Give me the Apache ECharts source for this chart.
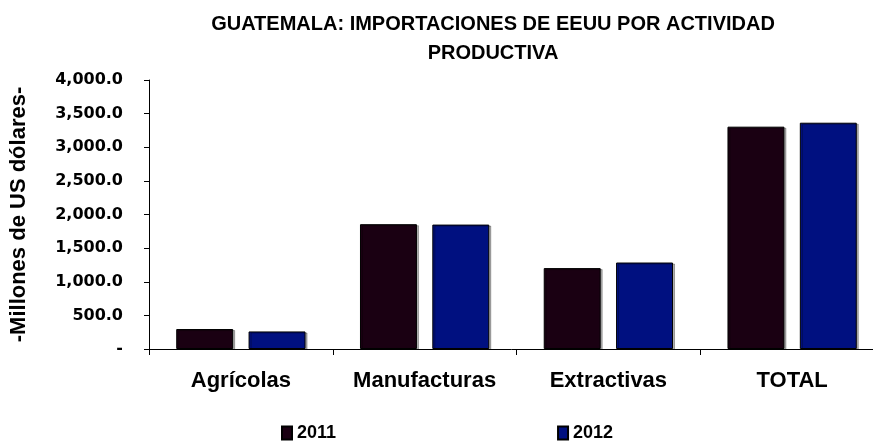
<!DOCTYPE html>
<html>
<head>
<meta charset="utf-8">
<script src="https://cdn.jsdelivr.net/npm/echarts@6/dist/echarts.min.js"></script>
<style>
  html, body { margin: 0; padding: 0; background: #fff; }
  #chart { width: 873px; height: 443px; }
</style>
</head>
<body>
<div id="chart"></div>
<script>
const categories = ['Agrícolas', 'Manufacturas', 'Extractivas', 'TOTAL'];
const values2011 = [297, 1856, 1203, 3306];
const values2012 = [261, 1850, 1286, 3365];
const seriesNames = ['2011', '2012'];

const arial = 'Liberation Sans, Arial, sans-serif';
const wide = 'DejaVu Sans';

const chart = echarts.init(document.getElementById('chart'), null, { renderer: 'canvas' });

chart.setOption({
  backgroundColor: '#ffffff',
  animation: false,
  title: {
    text: 'GUATEMALA: IMPORTACIONES DE EEUU POR ACTIVIDAD\nPRODUCTIVA',
    left: 488,
    top: 5,
    textAlign: 'center',
    textStyle: {
      fontFamily: arial,
      fontWeight: 'bold',
      fontSize: 20,
      lineHeight: 29,
      color: '#000'
    }
  },
  legend: {
    data: seriesNames,
    icon: 'rect',
    left: 276,
    top: 419,
    itemWidth: 10,
    itemHeight: 13,
    itemGap: 221,
    textStyle: { fontFamily: arial, fontWeight: 'bold', fontSize: 18, color: '#000' }
  },
  grid: {
    left: 149,
    width: 735,
    top: 80,
    height: 269,
    containLabel: false,
    outerBoundsMode: 'none'
  },
  xAxis: {
    type: 'category',
    data: categories,
    axisLine: { lineStyle: { color: '#000', width: 1 } },
    axisTick: { show: true, length: 6, lineStyle: { color: '#000' } },
    axisLabel: {
      interval: 0,
      margin: 21,
      fontFamily: arial,
      fontWeight: 'bold',
      fontSize: 22,
      color: '#000'
    }
  },
  yAxis: {
    type: 'value',
    min: 0,
    max: 4000,
    interval: 500,
    name: '-Millones de US dólares-',
    nameLocation: 'middle',
    nameGap: 119,
    nameTextStyle: { fontFamily: arial, fontWeight: 'bold', fontSize: 22, color: '#000' },
    axisLine: { show: true, lineStyle: { color: '#000', width: 1 } },
    axisTick: { show: true, length: 5, lineStyle: { color: '#000' } },
    splitLine: { show: false },
    axisLabel: {
      margin: 26,
      fontFamily: wide,
      fontWeight: 'bold',
      fontSize: 16,
      color: '#000',
      formatter: function (v) {
        if (v === 0) return '-';
        return v.toLocaleString('en-US', { minimumFractionDigits: 1, maximumFractionDigits: 1 });
      }
    }
  },
  series: [
    {
      name: seriesNames[0],
      type: 'bar',
      data: values2011,
      barWidth: '31%',
      barGap: '27%',
      itemStyle: {
        color: '#1a0012', borderColor: '#000', borderWidth: 1,
        shadowColor: 'rgba(0,0,0,0.3)', shadowOffsetX: 2, shadowOffsetY: 1, shadowBlur: 0
      }
    },
    {
      name: seriesNames[1],
      type: 'bar',
      data: values2012,
      barWidth: '31%',
      itemStyle: {
        color: '#001080', borderColor: '#000', borderWidth: 1,
        shadowColor: 'rgba(0,0,0,0.3)', shadowOffsetX: 2, shadowOffsetY: 1, shadowBlur: 0
      }
    }
  ]
});
</script>
</body>
</html>
